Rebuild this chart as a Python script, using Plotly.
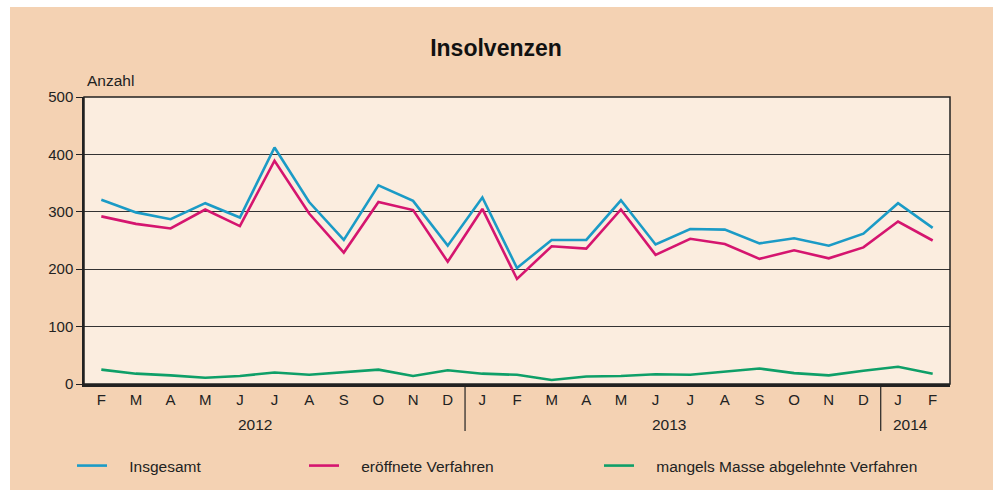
import plotly.graph_objects as go

months = ["F", "M", "A", "M", "J", "J", "A", "S", "O", "N", "D",
          "J", "F", "M", "A", "M", "J", "J", "A", "S", "O", "N", "D",
          "J", "F"]
years = ["2012", "2013", "2014"]
year_centers = [4.45, 16.4, 23.35]
separators = [10.5, 22.5]

insgesamt = [321, 299, 287, 315, 290, 412, 317, 251, 346, 319, 241,
             325, 202, 251, 251, 320, 243, 270, 269, 245, 254, 241, 262,
             315, 272]
eroeffnet = [292, 279, 271, 304, 275, 389, 297, 229, 317, 303, 213,
             305, 183, 240, 236, 304, 225, 253, 244, 218, 233, 219, 238,
             283, 250]
mangels = [25, 18, 15, 11, 14, 20, 16, 21, 25, 14, 24,
           18, 16, 7, 13, 14, 17, 16, 21, 27, 19, 15, 23,
           30, 18]

names = ["Insgesamt", "eröffnete Verfahren", "mangels Masse abgelehnte Verfahren"]
colors = ["#1B9BC6", "#D5156F", "#0E9F68"]
series = [insgesamt, eroeffnet, mangels]

PEACH = "#F4D2B3"
INNER = "#FBEDDF"
TXT = "#222222"
FONT = "Liberation Sans, Arial, sans-serif"

W, H = 993, 490
PL, PR, PT, PB = 84, 950, 97, 384  # plot area in page pixels
L, T, R, B = PL, PT, W - PR, H - PB
pw, ph = PR - PL, PB - PT

def px_x(p):
    return (p - PL) / pw

def px_y(p):
    return (PB - p) / ph

x = list(range(len(months)))
fig = go.Figure()
legend_px = [72, 304, 599]
for i, (nm, c, s) in enumerate(zip(names, colors, series)):
    lg = "legend" if i == 0 else f"legend{i+1}"
    fig.add_trace(go.Scatter(
        x=x, y=s, mode="lines", name="\u00a0" * 4 + nm,
        line=dict(color=c, width=2.6), legend=lg, hoverinfo="y+name"))

legend_common = dict(orientation="h", yanchor="middle", xanchor="left",
                     xref="container", yref="container",
                     bgcolor="rgba(0,0,0,0)", font=dict(family=FONT, size=15.5, color=TXT),
                     itemwidth=30)
layout_legends = {}
for i, lp in enumerate(legend_px):
    key = "legend" if i == 0 else f"legend{i+1}"
    layout_legends[key] = dict(legend_common, x=lp / W, y=1 - 466 / H)

shapes = [
    dict(type="rect", xref="paper", yref="paper", x0=px_x(0), x1=px_x(10),
         y0=px_y(H), y1=px_y(0), fillcolor="white", line=dict(width=0), layer="below"),
    dict(type="rect", xref="paper", yref="paper", x0=px_x(0), x1=px_x(W),
         y0=px_y(7), y1=px_y(0), fillcolor="white", line=dict(width=0), layer="below"),
    dict(type="rect", xref="paper", yref="paper", x0=0, x1=1, y0=0, y1=1,
         line=dict(color="#222222", width=1.5), layer="above"),
]
for sx in separators:
    shapes.append(dict(type="line", xref="x", yref="paper", x0=sx, x1=sx,
                       y0=0, y1=px_y(431), line=dict(color="#222222", width=1.2)))

annotations = [dict(text="Anzahl", xref="paper", yref="paper", x=px_x(85), y=px_y(80),
                    xanchor="left", yanchor="middle", showarrow=False,
                    font=dict(family=FONT, size=15.5, color=TXT))]
for yr, xc in zip(years, year_centers):
    annotations.append(dict(text=yr, xref="x", yref="paper", x=xc, y=px_y(424),
                            xanchor="center", yanchor="middle", showarrow=False,
                            font=dict(family=FONT, size=15.5, color=TXT)))

fig.update_layout(
    width=W, height=H,
    margin=dict(l=L, r=R, t=T, b=B),
    paper_bgcolor=PEACH, plot_bgcolor=INNER,
    title=dict(text="<b>Insolvenzen</b>", x=496 / W, xanchor="center",
               y=1 - 48 / H, yanchor="middle",
               font=dict(family=FONT, size=23, color="#111111")),
    showlegend=True,
    shapes=shapes, annotations=annotations,
    xaxis=dict(range=[-0.5, len(months) - 0.5], tickmode="array", tickvals=x,
               ticktext=months, showgrid=False, zeroline=False, ticks="",
               showline=True, linecolor="#222222", linewidth=2.5,
               tickfont=dict(family=FONT, size=15, color=TXT), ticklabelstandoff=0),
    yaxis=dict(range=[0, 500], tickvals=[0, 100, 200, 300, 400, 500],
               showgrid=True, gridcolor="#333333", gridwidth=1, zeroline=False,
               ticks="outside", ticklen=6, tickcolor="#222222",
               showline=True, linecolor="#222222", linewidth=1.5,
               tickfont=dict(family=FONT, size=15, color=TXT)),
    **layout_legends,
)

fig.write_html(
    "out.html",
    config={"displayModeBar": False},
    post_script="document.body.style.margin='0';document.body.style.padding='0';"
                "document.body.style.overflow='hidden';"
                "document.documentElement.style.overflow='hidden';",
)
